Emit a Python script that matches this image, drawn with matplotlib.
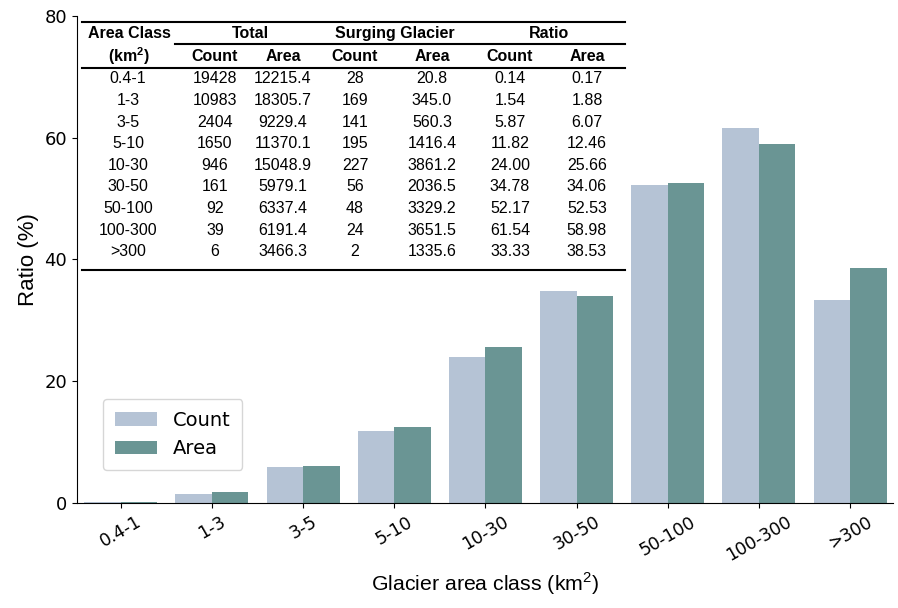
import matplotlib.pyplot as plt
import numpy as np

plt.rcParams['mathtext.fontset'] = 'custom'
plt.rcParams['mathtext.rm'] = 'Liberation Sans'
plt.rcParams['mathtext.bf'] = 'Liberation Sans:bold'

classes = ['0.4-1', '1-3', '3-5', '5-10', '10-30', '30-50', '50-100', '100-300', '>300']
total_count = ['19428', '10983', '2404', '1650', '946', '161', '92', '39', '6']
total_area = ['12215.4', '18305.7', '9229.4', '11370.1', '15048.9', '5979.1', '6337.4', '6191.4', '3466.3']
surge_count = ['28', '169', '141', '195', '227', '56', '48', '24', '2']
surge_area = ['20.8', '345.0', '560.3', '1416.4', '3861.2', '2036.5', '3329.2', '3651.5', '1335.6']
ratio_count = [0.14, 1.54, 5.87, 11.82, 24.00, 34.78, 52.17, 61.54, 33.33]
ratio_area = [0.17, 1.88, 6.07, 12.46, 25.66, 34.06, 52.53, 58.98, 38.53]

c_count = '#b5c3d5'
c_area = '#6a9594'

fig = plt.figure(figsize=(8.98, 6.08), dpi=100)
ax = fig.add_axes([0.0857, 0.1727, 0.9087, 0.801])

x = np.arange(len(classes))
w = 0.4
ax.bar(x - w / 2, ratio_count, w, color=c_count, linewidth=0, label='Count')
ax.bar(x + w / 2, ratio_area, w, color=c_area, linewidth=0, label='Area')

ax.set_xlim(-0.48, len(classes) - 0.53)
ax.set_ylim(0, 80)
ax.set_yticks([0, 20, 40, 60, 80])
ax.set_xticks(x)
ax.set_xticklabels(classes, rotation=30, fontsize=12.5)
ax.tick_params(axis='y', labelsize=13)
ax.spines['top'].set_visible(False)
ax.spines['right'].set_visible(False)

ax.set_ylabel('Ratio (%)', fontsize=16, family='Liberation Sans')
ax.set_xlabel('Glacier area class (km$^2$)', fontsize=15.3, family='Liberation Sans')

ax.legend(loc='lower left', bbox_to_anchor=(0.02, 0.048), fontsize=14,
          handlelength=2.2, borderpad=0.6)

# table drawn as text in axes coordinates
def px(xp, yp):
    return (xp - 77) / 816, (503 - yp) / 487

tf = dict(family='Liberation Sans', fontsize=11.5, ha='center', va='center',
          transform=ax.transAxes)
col_x = [128, 215, 283, 355, 432, 510, 587]

# header lines
for (x0, x1, yp) in [(82, 625, 22), (175, 625, 44), (82, 625, 68), (82, 625, 270)]:
    a0, b0 = px(x0, yp)
    a1, _ = px(x1, yp)
    ax.plot([a0, a1], [b0, b0], color='black', lw=1.5, transform=ax.transAxes, clip_on=False)

ax.text(*px(129, 34), 'Area Class', fontweight='bold', **tf)
ax.text(*px(129, 56), '(km$^\\mathbf{2}$)', fontweight='bold', **tf)
for label, xp in [('Total', 250), ('Surging Glacier', 395), ('Ratio', 549)]:
    ax.text(*px(xp, 34), label, fontweight='bold', **tf)
for i, label in enumerate(['Count', 'Area', 'Count', 'Area', 'Count', 'Area']):
    ax.text(*px(col_x[i + 1], 57), label, fontweight='bold', **tf)

for r in range(len(classes)):
    yp = 79 + r * 21.6
    row = [classes[r], total_count[r], total_area[r], surge_count[r], surge_area[r],
           f'{ratio_count[r]:.2f}', f'{ratio_area[r]:.2f}']
    for xp, val in zip(col_x, row):
        ax.text(*px(xp, yp), val, **tf)

fig.savefig('out.png', dpi=100)
